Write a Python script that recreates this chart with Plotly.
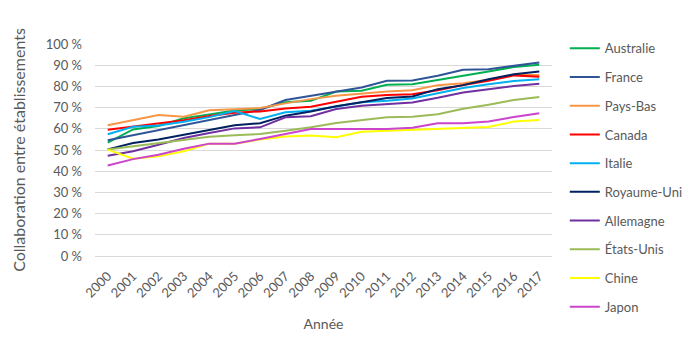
import plotly.graph_objects as go

years = [str(y) for y in range(2000, 2018)]

australie = [53.5, 59.7, 61.3, 65.0, 66.8, 68.6, 69.3, 72.5, 73.2, 77.6, 78.0, 80.8, 81.0, 82.9, 85.0, 87.0, 89.2, 90.2]
france = [54.6, 57.0, 59.2, 61.6, 64.0, 66.3, 68.9, 73.6, 75.6, 77.6, 79.5, 82.7, 82.8, 85.0, 87.8, 88.1, 89.7, 91.3]
pays_bas = [61.7, 64.1, 66.5, 65.7, 68.7, 69.2, 69.8, 72.0, 74.0, 75.6, 76.7, 77.6, 78.2, 80.6, 81.5, 83.1, 85.4, 85.4]
canada = [59.5, 61.0, 62.4, 64.0, 66.0, 67.6, 68.2, 69.6, 70.4, 72.8, 75.1, 76.0, 76.3, 78.2, 80.6, 82.6, 85.2, 84.5]
italie = [57.4, 61.0, 61.6, 63.3, 65.5, 68.4, 64.6, 67.8, 68.5, 70.6, 72.5, 73.2, 74.3, 76.8, 79.2, 81.0, 82.6, 83.4]
royaume_uni = [50.3, 53.3, 55.0, 57.3, 59.7, 61.7, 62.6, 66.2, 68.2, 70.6, 72.5, 74.5, 75.2, 78.7, 80.6, 83.4, 85.7, 87.0]
allemagne = [47.3, 49.4, 52.5, 55.7, 58.0, 60.2, 60.7, 65.4, 65.9, 69.3, 70.9, 71.7, 72.4, 74.6, 77.1, 78.7, 80.2, 81.3]
etats_unis = [50.2, 51.7, 53.3, 55.0, 56.2, 57.0, 57.5, 59.1, 60.7, 62.7, 64.1, 65.4, 65.7, 66.9, 69.5, 71.3, 73.6, 75.0]
chine = [50.2, 45.9, 47.0, 49.4, 53.0, 53.0, 54.9, 56.4, 56.8, 56.0, 58.6, 59.1, 59.3, 60.1, 60.6, 60.9, 63.4, 64.2]
japon = [42.7, 45.7, 47.8, 50.6, 53.0, 53.0, 55.2, 57.5, 59.9, 59.9, 59.9, 59.9, 60.5, 62.6, 62.6, 63.4, 65.6, 67.3]

series = [
    ("Australie", australie, "#00B050"),
    ("France", france, "#2F5597"),
    ("Pays-Bas", pays_bas, "#F79646"),
    ("Canada", canada, "#FF0000"),
    ("Italie", italie, "#00B0F0"),
    ("Royaume-Uni", royaume_uni, "#002060"),
    ("Allemagne", allemagne, "#7030A0"),
    ("États-Unis", etats_unis, "#9BBB59"),
    ("Chine", chine, "#FFFF00"),
    ("Japon", japon, "#CC44CC"),
]

y_tick_vals = [0, 10, 20, 30, 40, 50, 60, 70, 80, 90, 100]
y_tick_text = ["0 %", "10 %", "20 %", "30 %", "40 %", "50 %", "60 %", "70 %", "80 %", "90 %", "100 %"]

FONT = "Lato"
GREY = "#595959"

fig = go.Figure()
for i, (name, vals, color) in enumerate(series):
    fig.add_trace(go.Scatter(
        x=years, y=vals, name=name, mode="lines",
        line=dict(color=color, width=2),
        legendgroup=f"g{i}",
    ))

fig.update_layout(
    width=700, height=350,
    margin=dict(l=95, r=139, t=44, b=94),
    paper_bgcolor="white", plot_bgcolor="white",
    font=dict(family=FONT, size=13, color=GREY),
    showlegend=True,
    legend=dict(
        x=1.028, y=1.05, xanchor="left", yanchor="top",
        font=dict(family=FONT, size=13, color=GREY),
        tracegroupgap=8.8,
        maxheight=340,
        bgcolor="rgba(0,0,0,0)",
    ),
    xaxis=dict(
        type="category",
        range=[-0.5, 17.5],
        tickangle=-45,
        showgrid=False,
        showline=False,
        ticks="",
        ticklabelstandoff=9,
        tickfont=dict(family=FONT, size=13, color=GREY),
        title=dict(text="Année", font=dict(family=FONT, size=14, color=GREY), standoff=19),
    ),
    yaxis=dict(
        range=[0, 100],
        tickvals=y_tick_vals,
        ticktext=y_tick_text,
        showgrid=True,
        gridcolor="#D9D9D9",
        gridwidth=1,
        zeroline=True,
        zerolinecolor="#D9D9D9",
        zerolinewidth=1,
        ticks="",
        ticklabelstandoff=12,
        tickfont=dict(family=FONT, size=13, color=GREY),
        title=dict(text="Collaboration entre établissements", font=dict(family=FONT, size=16, color=GREY), standoff=16),
    ),
)

fig.write_html("out.html")
